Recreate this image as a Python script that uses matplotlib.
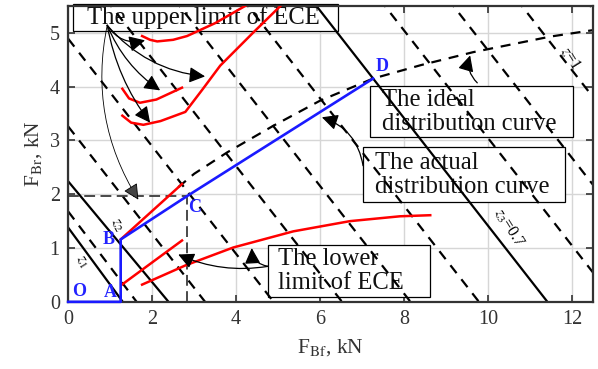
import matplotlib
matplotlib.use("Agg")
import matplotlib.pyplot as plt
from matplotlib.patches import Rectangle
import numpy as np

plt.rcParams['font.family'] = 'Liberation Serif'
plt.rcParams['mathtext.fontset'] = 'stix'

# constant-deceleration lines: intercepts on the x axis and on the y axis
z_dash_x0 = [1.63, 3.26, 4.89, 6.52, 8.15, 9.78, 13.04, 14.67, 16.30, 17.93]
z_dash_y0 = [1.68, 3.26, 4.89, 6.52, 8.15, 9.78, 13.04, 14.67, 16.30, 17.93]
z_solid_x0 = [1.30, 2.39, 11.41]
z_solid_y0 = [1.38, 2.24, 11.41]

# ideal distribution curve (I curve)
ideal_x = [2.62, 3.0, 3.79, 4.88, 6.0, 7.26, 8.4, 9.64, 11.48, 12.5]
ideal_y = [2.13, 2.38, 2.78, 3.27, 3.74, 4.15, 4.40, 4.64, 4.93, 5.05]

# actual distribution curve O-A-B-C-D
actual_x = [0, 1.25, 1.25, 2.84, 7.26]
actual_y = [0, 0, 1.16, 1.97, 4.15]
pt_names = ['O', 'A', 'B', 'C', 'D']

# ECE upper limit curves
up1_x = [1.76, 1.95, 2.12, 2.5, 2.83, 3.5, 4.26]
up1_y = [4.94, 4.87, 4.84, 4.87, 4.94, 5.18, 5.52]
up2_x = [1.29, 1.5, 1.79, 2.2, 2.79, 3.2, 3.62, 4.4, 5.12]
up2_y = [3.46, 3.33, 3.29, 3.36, 3.53, 3.95, 4.39, 5.0, 5.55]
up3_x = [1.29, 1.45, 1.71, 2.1, 2.71]
up3_y = [3.96, 3.78, 3.70, 3.76, 3.98]

# ECE lower limit curves
lo1_x = [1.28, 2.71]
lo1_y = [0.32, 1.14]
lo2_x = [1.76, 2.8, 3.93, 5.36, 6.71, 7.9, 8.62]
lo2_y = [0.32, 0.68, 1.01, 1.31, 1.50, 1.59, 1.61]
# red segment on the I curve from B
red_b_x = [1.25, 2.71]
red_b_y = [1.16, 2.19]

fig, ax = plt.subplots(figsize=(5.98, 3.69), dpi=100)
fig.subplots_adjust(left=0.114, right=0.992, bottom=0.182, top=0.984)

ax.set_xlim(0, 12.5)
ax.set_ylim(0, 5.5)
ax.set_xticks(range(0, 13, 2))
ax.set_yticks(range(0, 6))
ax.grid(True, color='#d6d6d6', lw=1.0, zorder=0)
ax.set_axisbelow(True)
ax.tick_params(direction='in', top=True, right=True, length=5, width=1.2,
               labelsize=14.5, colors='#333333', pad=6)
for s in ax.spines.values():
    s.set_linewidth(1.6)
    s.set_color('#333333')

# text boxes sit under the lines, as in the original
boxes = [
    ((0.12, 5.03), 6.31, 0.50, 'The upper limit of ECE', (0.45, 5.28)),
    ((7.19, 3.07), 4.83, 0.95, 'The ideal\ndistribution curve', (7.48, 3.53)),
    ((7.02, 1.85), 4.81, 1.03, 'The actual\ndistribution curve', (7.31, 2.36)),
    ((4.76, 0.09), 3.86, 0.96, 'The lower\nlimit of ECE', (5.0, 0.57)),
]
for xy, w, h, txt, tpos in boxes:
    ax.add_patch(Rectangle(xy, w, h, fc='white', ec='k', lw=0.9, zorder=1, clip_on=False))
    ax.text(tpos[0], tpos[1], txt, fontsize=17.7, ha='left', va='center',
            linespacing=1.08, zorder=1.2, color='#111111')

for x0, y0 in zip(z_dash_x0, z_dash_y0):
    ax.plot([0, x0], [y0, 0], color='k', lw=1.6, ls=(0, (4.5, 3.5)), zorder=2)
for x0, y0 in zip(z_solid_x0, z_solid_y0):
    ax.plot([0, x0], [y0, 0], color='k', lw=1.6, zorder=2)

ax.plot(ideal_x, ideal_y, color='k', lw=1.6, ls=(0, (4.5, 3.5)), zorder=2)

# guide lines to C
ax.plot([0, actual_x[3]], [actual_y[3], actual_y[3]], color='#3a3a3a', lw=1.3, ls=(0, (6, 3)), zorder=2)
ax.plot([actual_x[3], actual_x[3]], [0, actual_y[3]], color='#3a3a3a', lw=1.3, ls=(0, (6, 3)), zorder=2)

for xs, ys in [(up1_x, up1_y), (up2_x, up2_y), (up3_x, up3_y),
               (lo1_x, lo1_y), (lo2_x, lo2_y), (red_b_x, red_b_y)]:
    ax.plot(xs, ys, color='red', lw=1.8, zorder=3)

ax.plot(actual_x, actual_y, color='#1a1aff', lw=1.9, clip_on=False, zorder=5)

offs = [(0.25, 0.19), (-0.25, 0.17), (-0.29, 0.0), (0.18, -0.22), (0.21, 0.22)]
for name, x, y, o in zip(pt_names, actual_x, actual_y, offs):
    ax.text(x + o[0], y + o[1], name, color='#2323ff', fontsize=13, fontweight='bold',
            ha='center', va='center', zorder=6)

ax.text(0.33, 0.75, r'$z_1$', rotation=-58, fontsize=11.5, ha='center', va='center')
ax.text(1.16, 1.44, r'$z_2$', rotation=-58, fontsize=11.5, ha='center', va='center')
ax.text(10.48, 1.38, r'$z_3$=0.7', rotation=-58, fontsize=11.5, ha='center', va='center')
ax.text(11.95, 4.52, r'$z$=1', rotation=-58, fontsize=11.5, ha='center', va='center')

arrow = dict(arrowstyle='-|>', color='k', lw=0.9, mutation_scale=24, shrinkA=0, shrinkB=0)

start = (0.93, 5.14)
up_targets = [(1.83, 4.86, 0.35), (3.26, 4.19, 0.2), (2.19, 3.93, 0.15), (1.95, 3.33, 0.12)]
for tx, ty, rad in up_targets:
    ax.annotate('', xy=(tx, ty), xytext=start,
                arrowprops=dict(arrow, connectionstyle=f'arc3,rad={rad}'), zorder=8)
ax.annotate('', xy=(1.67, 1.9), xytext=start,
            arrowprops=dict(arrow, lw=0.6, fc='#444444', connectionstyle='arc3,rad=0.2'),
            zorder=8)
ax.annotate('', xy=(9.57, 4.58), xytext=(9.74, 4.07),
            arrowprops=dict(arrow, connectionstyle='arc3,rad=-0.3'), zorder=8)
ax.annotate('', xy=(6.04, 3.43), xytext=(7.02, 2.53),
            arrowprops=dict(arrow, connectionstyle='arc3,rad=0.3'), zorder=8)
ax.annotate('', xy=(2.62, 0.88), xytext=(4.76, 0.66),
            arrowprops=dict(arrow, connectionstyle='arc3,rad=-0.15'), zorder=8)
ax.annotate('', xy=(4.37, 1.0), xytext=(4.76, 0.66),
            arrowprops=dict(arrow, connectionstyle='arc3,rad=-0.4'), zorder=8)

ax.set_xlabel(r'F$_{\rm Bf}$, kN', fontsize=15.5, color='#333333', labelpad=6)
ax.set_ylabel(r'F$_{\rm Br}$, kN', fontsize=15.5, color='#333333', labelpad=4)

fig.savefig('out.png', dpi=100)
